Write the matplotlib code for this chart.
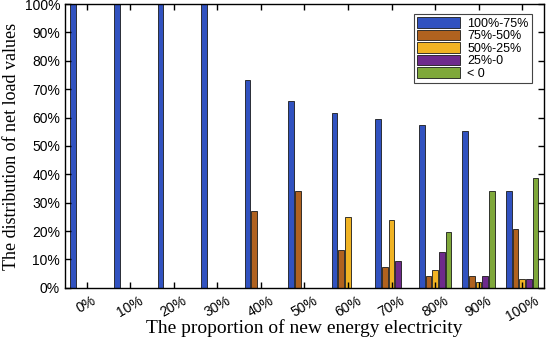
import numpy as np
import matplotlib
matplotlib.use("Agg")
import matplotlib.pyplot as plt
from matplotlib.ticker import PercentFormatter

# proportion of new energy electricity (x groups)
groups = ['0%', '10%', '20%', '30%', '40%', '50%', '60%', '70%', '80%', '90%', '100%']
series = ['100%-75%', '75%-50%', '50%-25%', '25%-0', '< 0']

# share of net load values in each band (fractions)
s_100_75 = [1.00, 1.00, 1.00, 1.00, 0.731, 0.657, 0.616, 0.596, 0.575, 0.554, 0.342]
s_75_50 = [0.0, 0.0, 0.0, 0.0, 0.272, 0.342, 0.135, 0.072, 0.041, 0.041, 0.207]
s_50_25 = [0.0, 0.0, 0.0, 0.0, 0.0, 0.0, 0.249, 0.239, 0.062, 0.019, 0.031]
s_25_0 = [0.0, 0.0, 0.0, 0.0, 0.0, 0.0, 0.0, 0.094, 0.125, 0.041, 0.031]
s_neg = [0.0, 0.0, 0.0, 0.0, 0.0, 0.0, 0.0, 0.0, 0.198, 0.342, 0.386]

colors = ['#3152c0', '#b0621f', '#f0b323', '#6e2a8c', '#7fa83a']

fig = plt.figure(figsize=(5.5, 3.41), dpi=100)
ax = fig.add_axes([0.118, 0.156, 0.871, 0.832])

x = np.arange(1, len(groups) + 1)
slot = 0.769 / 5
data = [s_100_75, s_75_50, s_50_25, s_25_0, s_neg]
for i, (vals, lab, c) in enumerate(zip(data, series, colors)):
    ax.bar(x + (i - 2) * slot, vals, width=0.13, color=c, edgecolor='#1a1a1a',
           linewidth=0.6, label=lab)

ax.set_xlim(0.5, 11.5)
ax.set_ylim(0, 1.0)
ax.set_xticks(x)
ax.set_xticklabels(groups, rotation=30, ha='center', fontsize=10,
                   family='Liberation Sans')
ax.set_yticks(np.arange(0, 1.01, 0.1))
ax.yaxis.set_major_formatter(PercentFormatter(1.0, decimals=0))
for t in ax.get_yticklabels():
    t.set_family('Liberation Sans')
    t.set_fontsize(10)
ax.tick_params(direction='in', top=True, right=True, length=4, width=1)
ax.tick_params(axis='x', pad=4)
for sp in ax.spines.values():
    sp.set_linewidth(1.0)

ax.set_xlabel('The proportion of new energy electricity', family='Liberation Serif',
              fontsize=14, labelpad=-3)
ax.set_ylabel('The distribution of net load values', family='Liberation Serif',
              fontsize=13, labelpad=3)

leg = ax.legend(loc='upper right', bbox_to_anchor=(0.975, 0.965), fancybox=False,
                edgecolor='#444444', framealpha=1,
                prop={'family': 'Liberation Sans', 'size': 9},
                handlelength=3.4, handleheight=0.9, labelspacing=0.0,
                borderpad=0.25, handletextpad=0.6, borderaxespad=0)
leg.get_frame().set_linewidth(0.8)

fig.savefig('out.png', dpi=100)
